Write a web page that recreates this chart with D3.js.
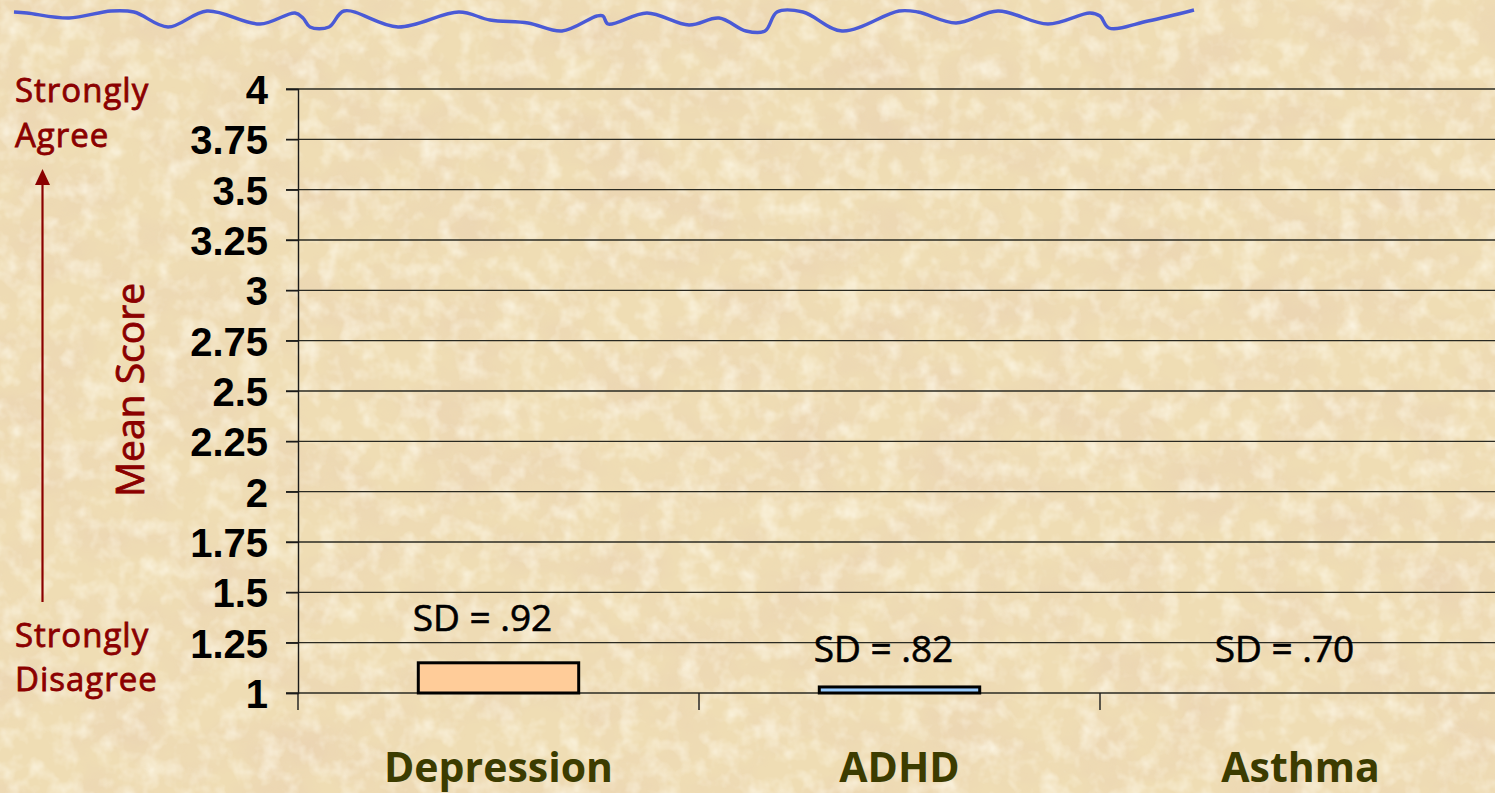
<!DOCTYPE html>
<html>
<head>
<meta charset="utf-8">
<script src="https://cdn.jsdelivr.net/npm/d3@7/dist/d3.min.js"></script>
<style>
  html, body { margin: 0; padding: 0; background: #efddb4; }
  svg { display: block; }
</style>
</head>
<body>
<div id="chart"></div>
<script>
// data
var categories = ["Depression", "ADHD", "Asthma"];
var meanScores = [1.15, 1.03, 1.00];
var sdLabels = ["SD = .92", "SD = .82", "SD = .70"];
var barColors = ["#ffcc99", "#99ccff", "#cccccc"];
var yTicks = [1, 1.25, 1.5, 1.75, 2, 2.25, 2.5, 2.75, 3, 3.25, 3.5, 3.75, 4];
var yTickLabels = ["1", "1.25", "1.5", "1.75", "2", "2.25", "2.5", "2.75", "3", "3.25", "3.5", "3.75", "4"];

// decorative squiggle at top of slide (x, y in px)
var squiggle = [[14,12],[27,13],[69,18],[111,11],[134,12],[168,27],[207,11],[260,24],[295,13],
  [303,18],[310,27],[329,27],[344,11],[398,27],[459,12],[490,20],[528,23],[562,31],[597,16],
  [603,16],[608,24],[647,13],[689,25],[719,18],[746,31],[765,31],[777,12],[803,12],[842,31],
  [899,11],[918,12],[956,23],[998,11],[1048,24],[1090,13],[1100,16],[1109,28],[1148,21],[1194,10]];

var W = 1495, H = 793;

var svg = d3.select("#chart").append("svg")
    .attr("width", W)
    .attr("height", H);

// parchment background
var defs = svg.append("defs");
var f = defs.append("filter").attr("id", "paper")
    .attr("x", 0).attr("y", 0).attr("width", "100%").attr("height", "100%");
f.append("feTurbulence").attr("type", "fractalNoise")
    .attr("baseFrequency", "0.012 0.018").attr("numOctaves", 4).attr("seed", 7);
f.append("feColorMatrix").attr("type", "matrix")
    .attr("values", "0 0 0 0 0.82  0 0 0 0 0.64  0 0 0 0 0.45  1.3 0 0 0 -0.50");
f.append("feComposite").attr("in2", "SourceGraphic").attr("operator", "in");

var f2 = defs.append("filter").attr("id", "paper2")
    .attr("x", 0).attr("y", 0).attr("width", "100%").attr("height", "100%");
f2.append("feTurbulence").attr("type", "fractalNoise")
    .attr("baseFrequency", "0.05").attr("numOctaves", 3).attr("seed", 3);
f2.append("feColorMatrix").attr("type", "matrix")
    .attr("values", "0 0 0 0 1  0 0 0 0 0.97  0 0 0 0 0.86  1.4 0 0 0 -0.62");
f2.append("feComposite").attr("in2", "SourceGraphic").attr("operator", "in");

svg.append("rect").attr("width", W).attr("height", H).attr("fill", "#efddb4");
svg.append("rect").attr("width", W).attr("height", H).attr("fill", "#fff").attr("filter", "url(#paper)");
svg.append("rect").attr("width", W).attr("height", H).attr("fill", "#fff").attr("filter", "url(#paper2)");

// squiggle
svg.append("path")
    .datum(squiggle)
    .attr("d", d3.line().curve(d3.curveCatmullRom.alpha(0.5)))
    .attr("fill", "none")
    .attr("stroke", "#4a5ad6")
    .attr("stroke-width", 3.4)
    .attr("stroke-linejoin", "round");

// scales
var x = d3.scaleBand().domain(categories).range([298, 1501]).padding(0);
var y = d3.scaleLinear().domain([1, 4]).range([693, 89]);

// gridlines
svg.append("g").selectAll("line")
    .data(yTicks)
    .enter().append("line")
    .attr("x1", 286)
    .attr("x2", W)
    .attr("y1", function (d) { return y(d); })
    .attr("y2", function (d) { return y(d); })
    .attr("stroke", "#2a2a22")
    .attr("stroke-width", 1.4);

// y axis
var yAxis = svg.append("g")
    .attr("transform", "translate(298,0)")
    .call(d3.axisLeft(y).tickValues(yTicks).tickSize(12).tickPadding(18)
        .tickFormat(function (d, i) { return yTickLabels[i]; }));
yAxis.select(".domain").attr("stroke", "#1a1a1a").attr("stroke-width", 1.4);
yAxis.selectAll(".tick line").attr("stroke", "#1a1a1a").attr("stroke-width", 1.4);
yAxis.selectAll(".tick text")
    .attr("fill", "#000")
    .attr("font-family", "'Liberation Sans', Arial, sans-serif")
    .attr("font-weight", "bold")
    .attr("font-size", "40px")
    .attr("dy", "0.36em");

// x axis ticks at category boundaries
var bounds = [298].concat(categories.map(function (c) { return x(c) + x.bandwidth(); }));
svg.append("g").selectAll("line")
    .data(bounds)
    .enter().append("line")
    .attr("x1", function (d) { return d; })
    .attr("x2", function (d) { return d; })
    .attr("y1", y(1))
    .attr("y2", y(1) + 17)
    .attr("stroke", "#1a1a1a")
    .attr("stroke-width", 1.4);

// bars
var barW = x.bandwidth() * 0.4;
svg.append("g").selectAll("rect")
    .data(meanScores)
    .enter().append("rect")
    .attr("x", function (d, i) { return x(categories[i]) + (x.bandwidth() - barW) / 2; })
    .attr("y", function (d) { return y(d); })
    .attr("width", barW)
    .attr("height", function (d) { return y(1) - y(d); })
    .attr("fill", function (d, i) { return barColors[i]; })
    .attr("stroke", "#000")
    .attr("stroke-width", function (d) { return d > 1 ? 3 : 0; });

// SD labels
svg.append("g").selectAll("text")
    .data(sdLabels)
    .enter().append("text")
    .text(function (d) { return d; })
    .attr("x", function (d, i) { return x(categories[i]) + x.bandwidth() / 2 - 16; })
    .attr("y", function (d, i) {
        var v = meanScores[i];
        return v > 1.1 ? y(v) - 32 : y(1.15) - 1;
    })
    .attr("text-anchor", "middle")
    .attr("font-family", "'Open Sans', 'Noto Sans', sans-serif")
    .attr("font-size", "37px")
    .attr("fill", "#000")
    .attr("stroke", "#000")
    .attr("stroke-width", 0.6);

// category labels
svg.append("g").selectAll("text")
    .data(categories)
    .enter().append("text")
    .text(function (d) { return d; })
    .attr("x", function (d) { return x(d) + x.bandwidth() / 2; })
    .attr("y", 782)
    .attr("text-anchor", "middle")
    .attr("font-family", "'Open Sans', 'Noto Sans', sans-serif")
    .attr("font-weight", "bold")
    .attr("font-size", "41px")
    .attr("fill", "#3c3c00");

// left side annotations
var red = "#8b0000";
var note = svg.append("g")
    .attr("font-family", "'Open Sans', 'Noto Sans', sans-serif")
    .attr("font-size", "33px")
    .attr("letter-spacing", "1px")
    .attr("fill", red)
    .attr("stroke", red)
    .attr("stroke-width", 0.8);
note.append("text").attr("x", 15).attr("y", 102).text("Strongly");
note.append("text").attr("x", 15).attr("y", 147).text("Agree");
note.append("text").attr("x", 15).attr("y", 647).text("Strongly");
note.append("text").attr("x", 15).attr("y", 691).text("Disagree");

svg.append("text")
    .attr("transform", "translate(144,390) rotate(-90)")
    .attr("text-anchor", "middle")
    .attr("font-family", "'Open Sans', 'Noto Sans', sans-serif")
    .attr("font-size", "39px")
    .attr("fill", red)
    .attr("stroke", red)
    .attr("stroke-width", 0.8)
    .text("Mean Score");

// arrow
svg.append("line")
    .attr("x1", 42.5).attr("x2", 42.5)
    .attr("y1", 602).attr("y2", 182)
    .attr("stroke", red).attr("stroke-width", 2.2);
svg.append("path")
    .attr("d", d3.line()([[42.5, 169], [35, 185], [50, 185]]) + "Z")
    .attr("fill", red);
</script>
</body>
</html>
